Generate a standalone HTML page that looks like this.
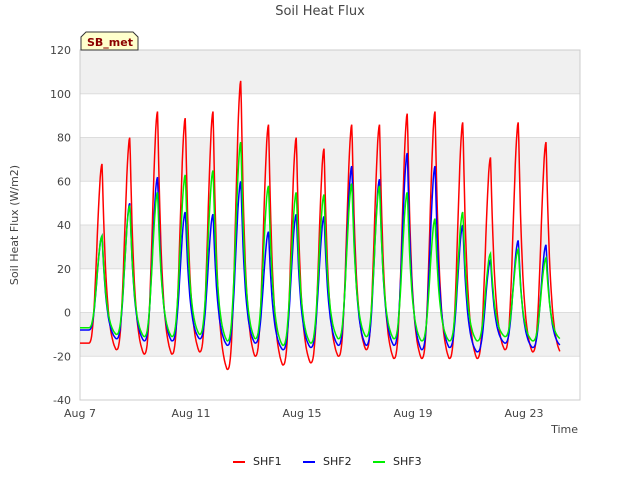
<!DOCTYPE html>
<html><head><meta charset="utf-8"><style>
body{margin:0;background:#fff;font-family:"Liberation Sans",sans-serif;}
svg text{font-family:"DejaVu Sans","Liberation Sans",sans-serif;}
</style></head><body>
<svg id="c" width="640" height="480">
<text x="320" y="15" text-anchor="middle" font-size="13" fill="#444">Soil Heat Flux</text>
<g id="grid"></g>
<rect x="80" y="50" width="500" height="350" fill="none" stroke="#ccc"/>
<g id="series"></g>
<g id="axes" font-size="11" fill="#444"></g>
<text x="18" y="225" transform="rotate(-90 18 225)" text-anchor="middle" font-size="11" fill="#444">Soil Heat Flux (W/m2)</text>
<text x="578" y="433" text-anchor="end" font-size="11" fill="#444">Time</text>
<g>
<path d="M81,50 L81,37 L86,32 L133,32 L138,37 L138,50 Z" fill="#ffffcc" stroke="#333"/>
<text x="87" y="46" font-size="11" font-weight="bold" fill="#8b0000">SB_met</text>
</g>
<g id="legend" font-size="11" fill="#222"></g>
</svg>
<script>
const days=["Aug 7","Aug 11","Aug 15","Aug 19","Aug 23"];
const dayIdx=[0,4,8,12,16];
const yTicks=[-40,-20,0,20,40,60,80,100,120];
const seriesNames=["SHF1","SHF2","SHF3"];
const seriesColors=["#ff0000","#0000ff","#00ee00"];
const shf1Max=[68,80,92,89,92,106,86,80,75,86,86,91,92,87,71,87,78];
const shf1Min=[-14,-17,-19,-19,-18,-26,-20,-24,-23,-20,-17,-21,-21,-21,-21,-17,-18,-18];
const shf2Max=[35,50,62,46,45,60,37,45,44,67,61,73,67,40,24,33,31];
const shf2Min=[-8,-12,-13,-13,-12,-15,-14,-17,-16,-15,-15,-15,-17,-16,-18,-14,-16,-15];
const shf3Max=[35,49,55,63,65,78,58,55,54,59,58,55,43,46,27,29,25];
const shf3Min=[-7,-10,-11,-11,-10,-13,-12,-15,-14,-12,-11,-12,-13,-13,-13,-11,-13,-12];
const X=d=>80+d*27.75, Y=v=>312.5-v*2.1875;
const ns="http://www.w3.org/2000/svg";
function mk(t,a,p){const e=document.createElementNS(ns,t);for(const k in a)e.setAttribute(k,a[k]);p.appendChild(e);return e;}
const grid=document.getElementById('grid'),axes=document.getElementById('axes');
for(let i=0;i<yTicks.length-1;i++){
 if((yTicks.length-2-i)%2===0){const r=mk('rect',{x:80,y:Y(yTicks[i+1]),width:500,height:Y(yTicks[i])-Y(yTicks[i+1]),fill:'#f0f0f0'},grid);
 
 }
}
yTicks.forEach(v=>{const l=mk('line',{x1:80,x2:580,y1:Y(v),y2:Y(v),stroke:'#ddd'},grid);


const t=mk('text',{x:71,y:Y(v)+4,'text-anchor':'end'},axes);t.textContent=v;

});
days.forEach((d,i)=>{const t=mk('text',{x:X(dayIdx[i]),y:417,'text-anchor':'middle'},axes);t.textContent=d;

});
const sg=document.getElementById('series');
[[shf1Max,shf1Min],[shf2Max,shf2Min],[shf3Max,shf3Min]].forEach((s,si)=>{
 const [mx,mn]=s;const pts=[];
 for(let h=0;h<=17.3*48;h++){const t=h/48;
  let d=Math.floor(t-0.3),f=t-0.3-d;let v;
  if(d<0){d=0;f=0;}
  const lo=mn[Math.min(d,mn.length-1)],hi=mx[Math.min(d,mx.length-1)],lo2=mn[Math.min(d+1,mn.length-1)];
  if(f<0.5){const g=f/0.5;v=lo+(hi-lo)*Math.pow((1-Math.cos(Math.PI*g))/2,1.6);}
  else{const g=(f-0.5)/0.5;v=hi+(lo2-hi)*(1-Math.exp(-3.2*g))/(1-Math.exp(-3.2));}
  if(t<0.3)v=mn[0];
  pts.push(X(t).toFixed(1)+','+Y(v).toFixed(1));}
 const p=mk('polyline',{points:pts.join(' '),fill:'none',stroke:seriesColors[si],'stroke-width':1.5},sg);
 
 
});
const lg=document.getElementById('legend');
seriesNames.forEach((n,i)=>{const x=233+i*70;
 const l=mk('line',{x1:x,x2:x+12,y1:462,y2:462,stroke:seriesColors[i],'stroke-width':2},lg);
 
 
 const t=mk('text',{x:x+20,y:465},lg);t.textContent=n;
 
 });
</script>
</body></html>
